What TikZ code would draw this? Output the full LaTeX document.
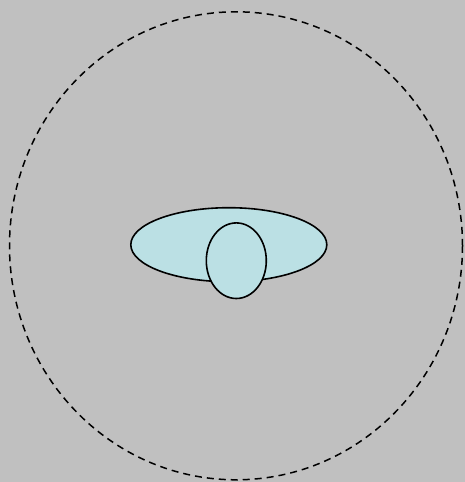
\documentclass[tikz,border=0pt]{standalone}
\definecolor{bg}{RGB}{192,192,192}
\definecolor{fillblue}{RGB}{187,224,228}
\begin{document}
\begin{tikzpicture}[x=1pt,y=-1pt,
  outer/.style={draw=black,line width=1.5pt,dash pattern=on 7pt off 5pt},
  blob/.style={draw=black,line width=1.6pt,fill=fillblue}]
\fill[bg] (0,0) rectangle (465,482);
\useasboundingbox (0,0) rectangle (465,482);
\draw[outer] (236,245.8) ellipse [x radius=226.5, y radius=234];
\draw[blob] (228.8,244.7) ellipse [x radius=98, y radius=37];
\draw[blob] (236.3,260.7) ellipse [x radius=30, y radius=37.8];
\end{tikzpicture}
\end{document}
